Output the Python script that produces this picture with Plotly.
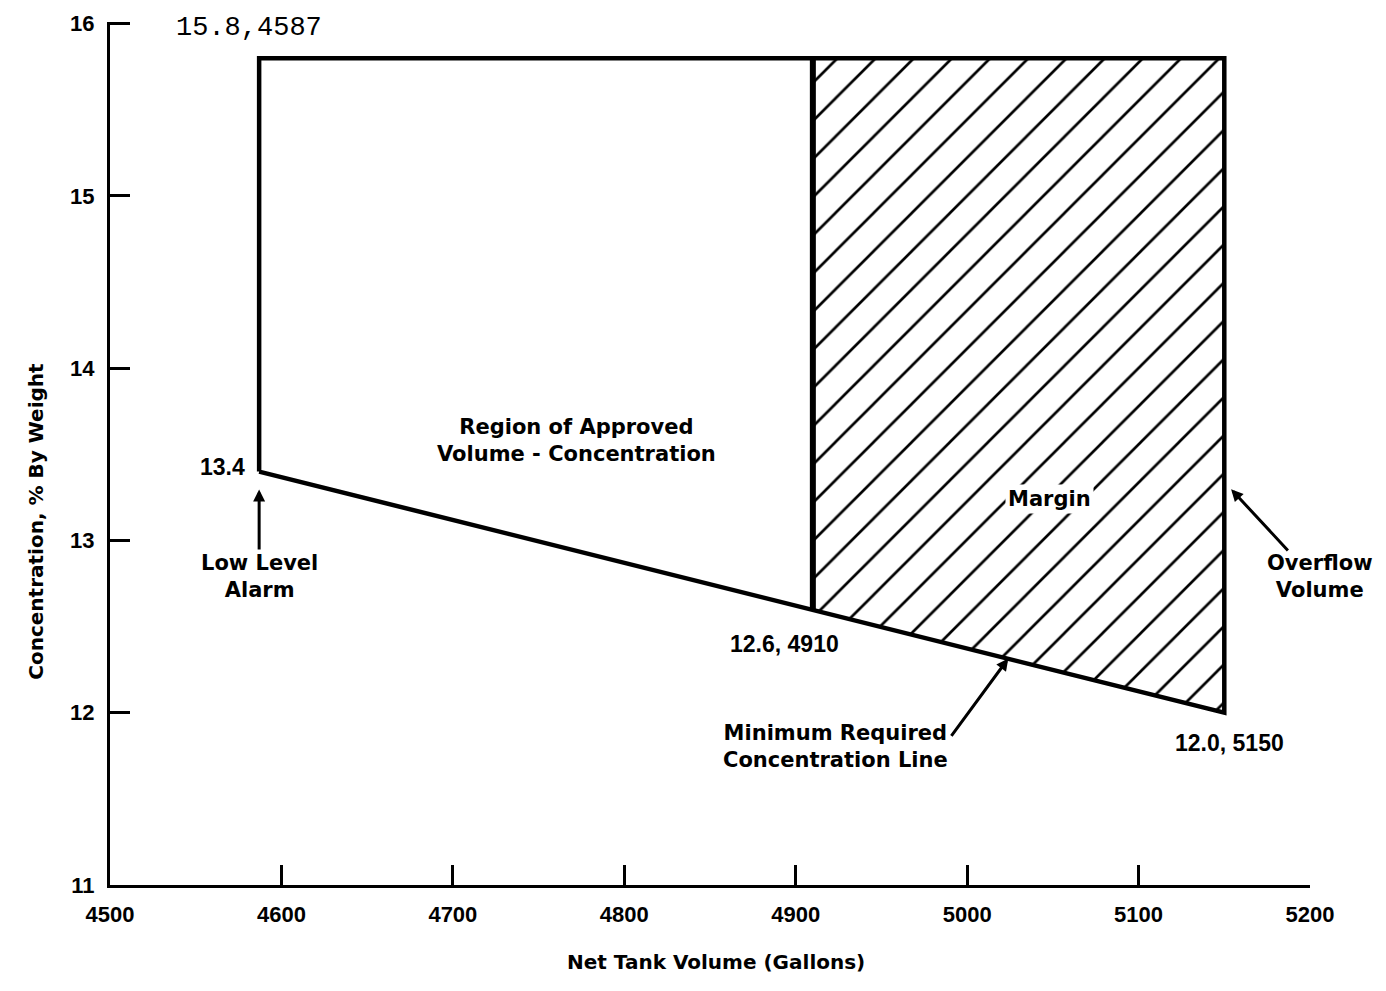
import numpy as np
import plotly.graph_objects as go

# ---------------- data ----------------
vol_ticks = [4500, 4600, 4700, 4800, 4900, 5000, 5100, 5200]
conc_ticks = [11, 12, 13, 14, 15, 16]

# outline of the approved region (volume, concentration)
region_vol = [4587, 4587, 5150, 5150, 4587]
region_conc = [13.4, 15.8, 15.8, 12.0, 13.4]

# hatched margin region
margin_vol = [4910, 4910, 5150, 5150, 4910]
margin_conc = [12.6, 15.8, 15.8, 12.0, 12.6]

# divider between approved region and margin
divider_vol = [4910, 4910]
divider_conc = [12.6, 15.8]

# minimum required concentration line
min_line_vol = [4587, 4910, 5150]
min_line_conc = [13.4, 12.6, 12.0]

overflow_arrow_conc = 13.34
min_arrow_vol = 5024

# ---------------- figure ----------------
fig = go.Figure()

fig.add_trace(go.Scatter(
    x=margin_vol, y=margin_conc, mode="lines", fill="toself",
    fillcolor="white",
    fillpattern=dict(shape="/", fgcolor="black", fgopacity=1, bgcolor="white",
                     size=27, solidity=0.1),
    line=dict(color="black", width=0), hoverinfo="skip", showlegend=False))

fig.add_trace(go.Scatter(
    x=region_vol, y=region_conc, mode="lines",
    line=dict(color="black", width=4.5), hoverinfo="skip", showlegend=False))

fig.add_trace(go.Scatter(
    x=divider_vol, y=divider_conc, mode="lines",
    line=dict(color="black", width=6), hoverinfo="skip", showlegend=False))

num_font = dict(family="Liberation Sans", size=23, color="black", weight="bold")
tick_font = dict(family="Liberation Sans", size=22, color="black", weight="bold")
word_font = dict(family="DejaVu Sans", size=21, color="black", weight="bold")
arrow_kw = dict(showarrow=True, arrowhead=2, arrowsize=0.8, arrowwidth=3, arrowcolor="black")

min_arrow_conc = float(np.interp(min_arrow_vol, min_line_vol, min_line_conc))

annotations = [
    dict(x=region_vol[1], y=region_conc[1], text="15.8,4587", showarrow=False,
         xshift=-10, yshift=30,
         font=dict(family="Liberation Mono", size=27, color="black")),
    dict(x=region_vol[0], y=region_conc[0], text="13.4", showarrow=False,
         xanchor="right", xshift=-12, yshift=5, font=num_font),
    dict(x=region_vol[0], y=region_conc[0], text="Low Level<br>Alarm",
         ax=0, ay=105, standoff=18, font=word_font, **arrow_kw),
    dict(x=4772, y=13.58, text="Region of Approved<br>Volume - Concentration",
         showarrow=False, font=word_font),
    dict(x=5048, y=13.24, text="Margin", showarrow=False, font=word_font,
         bgcolor="white", borderpad=2),
    dict(x=margin_vol[0], y=margin_conc[0], text="12.6, 4910", showarrow=False,
         xshift=-28, yshift=-35, font=num_font),
    dict(x=margin_vol[3], y=margin_conc[3], text="12.0, 5150", showarrow=False,
         xshift=5, yshift=-30, font=num_font),
    dict(x=min_arrow_vol, y=min_arrow_conc, text="", ax=-58, ay=79, standoff=0, **arrow_kw),
    dict(x=min_arrow_vol, y=min_arrow_conc, text="Minimum Required<br>Concentration Line",
         showarrow=False, xshift=-173, yshift=-88, font=word_font),
    dict(x=margin_vol[3], y=overflow_arrow_conc, text="", ax=65, ay=70, standoff=10, **arrow_kw),
    dict(x=margin_vol[3], y=overflow_arrow_conc, text="Overflow<br>Volume",
         showarrow=False, xshift=96, yshift=-95, font=word_font),
    dict(xref="paper", yref="paper", x=0.505, y=-0.106, text="Net Tank Volume (Gallons)",
         showarrow=False, font=dict(family="DejaVu Sans", size=20, color="black", weight="bold")),
    dict(xref="paper", yref="paper", x=-0.0733, y=0.421, text="Concentration, % By Weight",
         textangle=-90, showarrow=False,
         font=dict(family="DejaVu Sans", size=20, color="black", weight="bold")),
]

# page body adds an 8px offset, so the figure is sized to fit inside the window
fig.update_layout(
    width=1370, height=975,
    margin=dict(l=102, r=68, t=14, b=98),
    paper_bgcolor="white", plot_bgcolor="white",
    showlegend=False,
    annotations=annotations,
)

fig.update_xaxes(
    range=[vol_ticks[0], vol_ticks[-1]], tickvals=vol_ticks,
    ticks="inside", ticklen=20, tickwidth=3, tickcolor="black",
    showline=True, linewidth=3, linecolor="black",
    showgrid=False, zeroline=False, tickfont=tick_font, ticklabelstandoff=8,
    automargin=False, ticklabeloverflow="allow",
)
fig.update_yaxes(
    range=[conc_ticks[0], conc_ticks[-1] + 0.01], tickvals=conc_ticks,
    ticks="inside", ticklen=20, tickwidth=3, tickcolor="black",
    showline=True, linewidth=3, linecolor="black",
    showgrid=False, zeroline=False, tickfont=tick_font, ticklabelstandoff=8,
    automargin=False, ticklabeloverflow="allow",
)

fig.write_html("out.html")
